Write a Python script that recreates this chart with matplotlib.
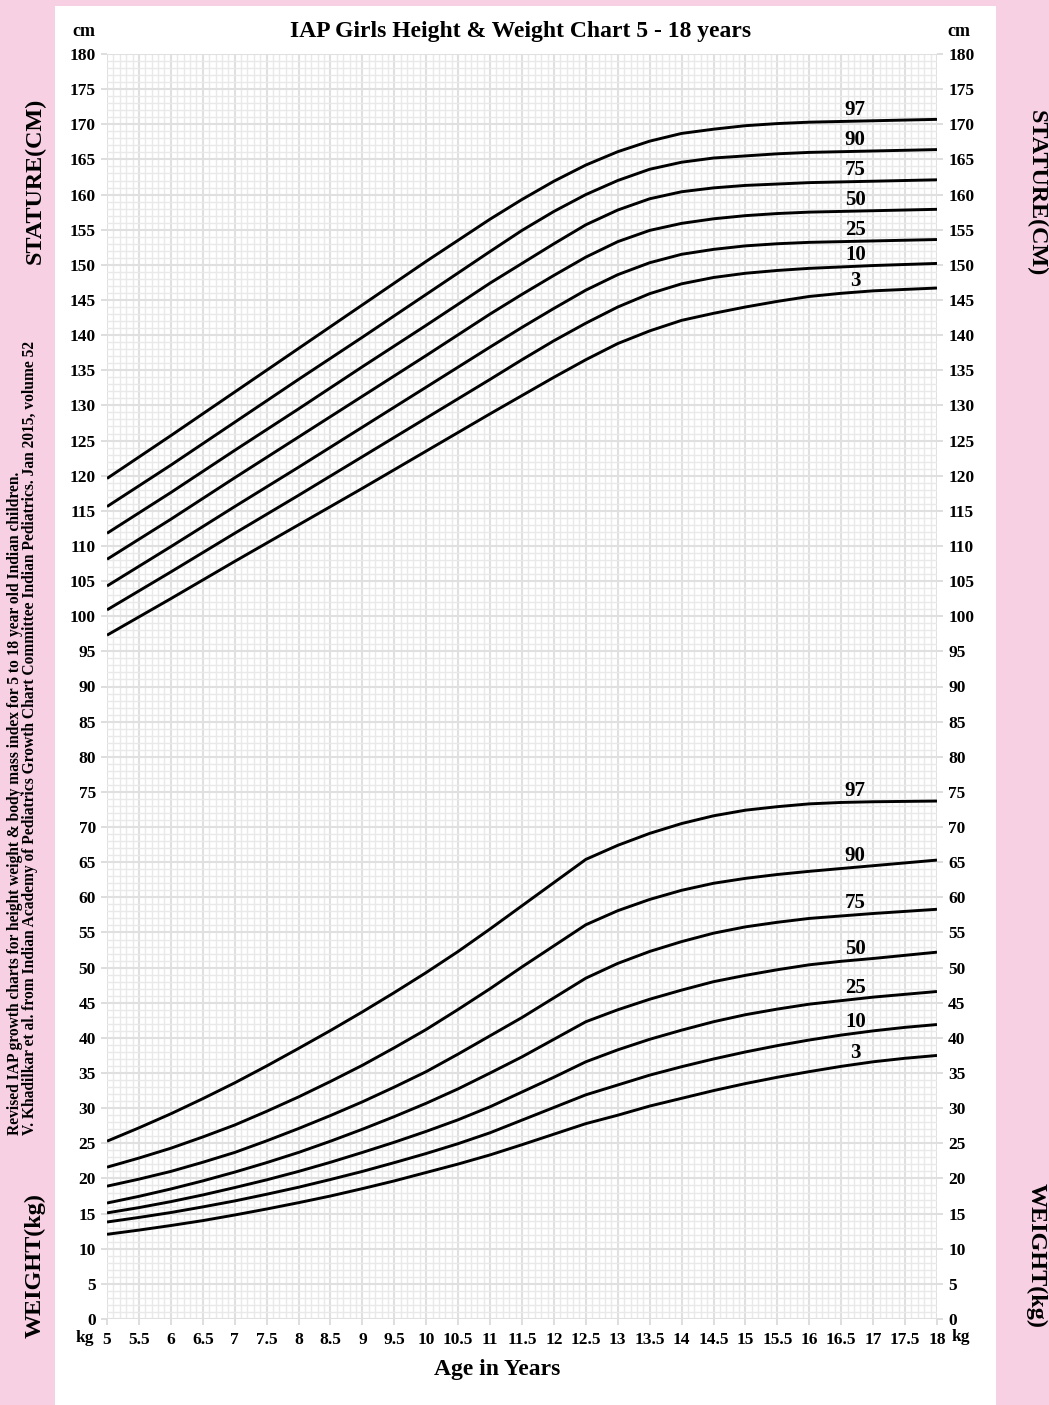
import numpy as np
import matplotlib
matplotlib.use("Agg")
import matplotlib.pyplot as plt
from matplotlib.patches import Rectangle
from matplotlib.ticker import MultipleLocator, FixedLocator

plt.rcParams['font.family'] = ['Liberation Serif', 'DejaVu Serif']
plt.rcParams['font.weight'] = 'bold'

# ---- data: IAP girls percentiles, 5 - 18 years (half-year steps) ----
ages = [5, 5.5, 6, 6.5, 7, 7.5, 8, 8.5, 9, 9.5, 10, 10.5, 11, 11.5, 12, 12.5,
        13, 13.5, 14, 14.5, 15, 15.5, 16, 16.5, 17, 17.5, 18]
percentiles = ['97', '90', '75', '50', '25', '10', '3']

height_p97 = [119.6, 122.65, 125.7, 128.8, 131.9, 135.0, 138.1, 141.2, 144.3, 147.4, 150.5, 153.5, 156.5, 159.3,
              161.9, 164.2, 166.1, 167.6, 168.7, 169.3, 169.8, 170.1, 170.3, 170.4, 170.5, 170.6, 170.7]
height_p90 = [115.6, 118.55, 121.5, 124.55, 127.6, 130.65, 133.7, 136.7, 139.7, 142.75, 145.8, 148.85, 151.9, 154.9,
              157.6, 160.0, 162.0, 163.6, 164.6, 165.2, 165.5, 165.8, 166.0, 166.1, 166.2, 166.3, 166.4]
height_p75 = [111.8, 114.7, 117.6, 120.6, 123.6, 126.55, 129.5, 132.5, 135.5, 138.45, 141.4, 144.4, 147.4, 150.2,
              153.0, 155.7, 157.8, 159.4, 160.4, 160.95, 161.3, 161.5, 161.7, 161.8, 161.9, 162.0, 162.1]
height_p50 = [108.1, 110.95, 113.8, 116.75, 119.7, 122.6, 125.5, 128.4, 131.3, 134.2, 137.1, 140.05, 143.0, 145.8,
              148.5, 151.1, 153.3, 154.9, 155.9, 156.55, 157.0, 157.3, 157.5, 157.6, 157.7, 157.8, 157.9]
height_p25 = [104.3, 107.1, 109.9, 112.75, 115.6, 118.4, 121.2, 124.05, 126.9, 129.75, 132.6, 135.45, 138.3, 141.1,
              143.8, 146.4, 148.6, 150.3, 151.5, 152.2, 152.7, 153.0, 153.2, 153.3, 153.4, 153.5, 153.6]
height_p10 = [100.9, 103.6, 106.3, 109.05, 111.8, 114.5, 117.2, 119.95, 122.7, 125.45, 128.2, 130.95, 133.7, 136.5,
              139.2, 141.7, 144.0, 145.9, 147.3, 148.2, 148.8, 149.2, 149.5, 149.7, 149.9, 150.05, 150.2]
height_p3 = [97.3, 99.9, 102.5, 105.15, 107.8, 110.4, 113.0, 115.6, 118.2, 120.85, 123.5, 126.15, 128.8, 131.4,
             134.0, 136.5, 138.8, 140.6, 142.1, 143.1, 144.0, 144.8, 145.5, 145.95, 146.3, 146.5, 146.7]

weight_p97 = [25.3, 27.2, 29.2, 31.35, 33.6, 36.0, 38.5, 41.05, 43.7, 46.45, 49.3, 52.3, 55.5, 58.8,
              62.1, 65.4, 67.4, 69.1, 70.5, 71.6, 72.4, 72.9, 73.3, 73.5, 73.6, 73.65, 73.7]
weight_p90 = [21.6, 22.9, 24.3, 25.9, 27.6, 29.55, 31.6, 33.8, 36.1, 38.6, 41.2, 44.05, 47.0, 50.1,
              53.1, 56.1, 58.1, 59.7, 61.0, 62.0, 62.7, 63.25, 63.7, 64.1, 64.5, 64.9, 65.3]
weight_p75 = [18.9, 19.9, 21.0, 22.3, 23.7, 25.35, 27.1, 28.95, 30.9, 33.0, 35.2, 37.7, 40.3, 42.9,
              45.7, 48.5, 50.6, 52.3, 53.7, 54.9, 55.8, 56.45, 57.0, 57.35, 57.7, 58.0, 58.3]
weight_p50 = [16.5, 17.45, 18.5, 19.65, 20.9, 22.25, 23.7, 25.3, 27.0, 28.8, 30.7, 32.75, 35.0, 37.3,
              39.8, 42.3, 44.0, 45.5, 46.8, 48.0, 48.9, 49.7, 50.4, 50.9, 51.3, 51.75, 52.2]
weight_p25 = [15.1, 15.85, 16.7, 17.65, 18.7, 19.8, 21.0, 22.3, 23.7, 25.15, 26.7, 28.35, 30.2, 32.3,
              34.4, 36.6, 38.3, 39.8, 41.1, 42.3, 43.3, 44.1, 44.8, 45.3, 45.8, 46.2, 46.6]
weight_p10 = [13.8, 14.45, 15.15, 15.95, 16.8, 17.75, 18.75, 19.85, 21.0, 22.25, 23.55, 24.95, 26.5, 28.3,
              30.1, 31.9, 33.3, 34.7, 35.9, 37.0, 38.0, 38.9, 39.7, 40.4, 41.0, 41.5, 41.9]
weight_p3 = [12.05, 12.65, 13.3, 14.0, 14.8, 15.65, 16.55, 17.5, 18.55, 19.65, 20.85, 22.05, 23.35, 24.8,
             26.3, 27.8, 29.0, 30.3, 31.4, 32.5, 33.5, 34.4, 35.2, 35.95, 36.6, 37.1, 37.5]

height_curves = [height_p97, height_p90, height_p75, height_p50, height_p25, height_p10, height_p3]
weight_curves = [weight_p97, weight_p90, weight_p75, weight_p50, weight_p25, weight_p10, weight_p3]

x_ticks = [5 + 0.5 * i for i in range(27)]
x_tick_labels = ['%g' % t for t in x_ticks]
y_ticks = list(range(0, 181, 5))

title = 'IAP Girls Height & Weight Chart 5 - 18 years'
citation_1 = 'Revised IAP growth charts for height weight & body mass index for 5 to 18 year old Indian children.'
citation_2 = ('V. Khadilkar et al. from Indian Academy of Pediatrics Growth Chart Committee '
              'Indian Pediatrics. Jan 2015, volume 52')

# ---- figure ----
W, H = 1049, 1405
PINK = '#F7D0E3'
fig = plt.figure(figsize=(W / 100, H / 100), dpi=100)
fig.patch.set_facecolor(PINK)
fig.add_artist(Rectangle((55 / W, 0), (996 - 55) / W, (H - 6) / H,
                         transform=fig.transFigure, facecolor='white',
                         edgecolor='none', zorder=0))

x0, x1, y0, y1 = 107, 937, 54, 1319
ax = fig.add_axes([x0 / W, 1 - y1 / H, (x1 - x0) / W, (y1 - y0) / H])
ax.set_xlim(5, 18)
ax.set_ylim(0, 180)
ax.set_facecolor('white')
for s in ax.spines.values():
    s.set_visible(False)

ax.xaxis.set_major_locator(FixedLocator(x_ticks))
ax.set_xticklabels(x_tick_labels)
ax.yaxis.set_major_locator(FixedLocator(y_ticks))
ax.xaxis.set_minor_locator(MultipleLocator(0.1))
ax.yaxis.set_minor_locator(MultipleLocator(1))
ax.grid(which='minor', color='#E9E9E9', linewidth=1.0)
ax.grid(which='major', color='#E0E0E0', linewidth=1.5)
ax.set_axisbelow(True)
ax.tick_params(which='major', direction='out', length=4, width=1.2, color='#D8D8D8',
               labelsize=12.5, pad=4, left=True, right=True, labelleft=True, labelright=True)
ax.tick_params(axis='x', which='major', pad=5)
ax.tick_params(which='minor', length=0)
for lab in ax.get_xticklabels() + ax.get_yticklabels():
    lab.set_fontweight('bold')

# ---- percentile curves ----
label_age = 16.72
for name, hv, wv in zip(percentiles, height_curves, weight_curves):
    for vals in (hv, wv):
        ax.plot(ages, vals, color='black', linewidth=2.1, solid_capstyle='butt',
                solid_joinstyle='round', zorder=3)
        ax.annotate(name, (label_age, np.interp(label_age, ages, vals)),
                    xytext=(0, 1.0), textcoords='offset points',
                    ha='center', va='bottom', fontsize=15, fontweight='bold', zorder=4)

# ---- texts around the grid ----
fig.text(521 / W, 1 - 31 / H, title, ha='center', va='center', fontsize=17, fontweight='bold')
fig.text(84 / W, 1 - 31 / H, 'cm', ha='center', va='center', fontsize=13, fontweight='bold')
fig.text(959 / W, 1 - 31 / H, 'cm', ha='center', va='center', fontsize=13, fontweight='bold')
fig.text(85 / W, 1 - 1338 / H, 'kg', ha='center', va='center', fontsize=12.5, fontweight='bold')
fig.text(961 / W, 1 - 1337 / H, 'kg', ha='center', va='center', fontsize=12.5, fontweight='bold')
fig.text(497 / W, 1 - 1370 / H, 'Age in Years', ha='center', va='center', fontsize=17, fontweight='bold')

fig.text(35 / W, 1 - 181 / H, 'STATURE(CM)', rotation=90, ha='center', va='center',
         fontsize=17.4, fontweight='bold')
fig.text(1036 / W, 1 - 193 / H, 'STATURE(CM)', rotation=-90, ha='center', va='center',
         fontsize=17.4, fontweight='bold')
fig.text(35 / W, 1 - 1266 / H, 'WEIGHT(kg)', rotation=90, ha='center', va='center',
         fontsize=17.4, fontweight='bold')
fig.text(1036 / W, 1 - 1255 / H, 'WEIGHT(kg)', rotation=-90, ha='center', va='center',
         fontsize=17.4, fontweight='bold')

fig.text(15 / W, 1 - 1135 / H, citation_1, rotation=90, ha='center', va='bottom',
         fontsize=11.2, fontweight='bold')
fig.text(30 / W, 1 - 1135 / H, citation_2, rotation=90, ha='center', va='bottom',
         fontsize=11.2, fontweight='bold')

fig.savefig('out.png', dpi=100, facecolor=fig.get_facecolor())
